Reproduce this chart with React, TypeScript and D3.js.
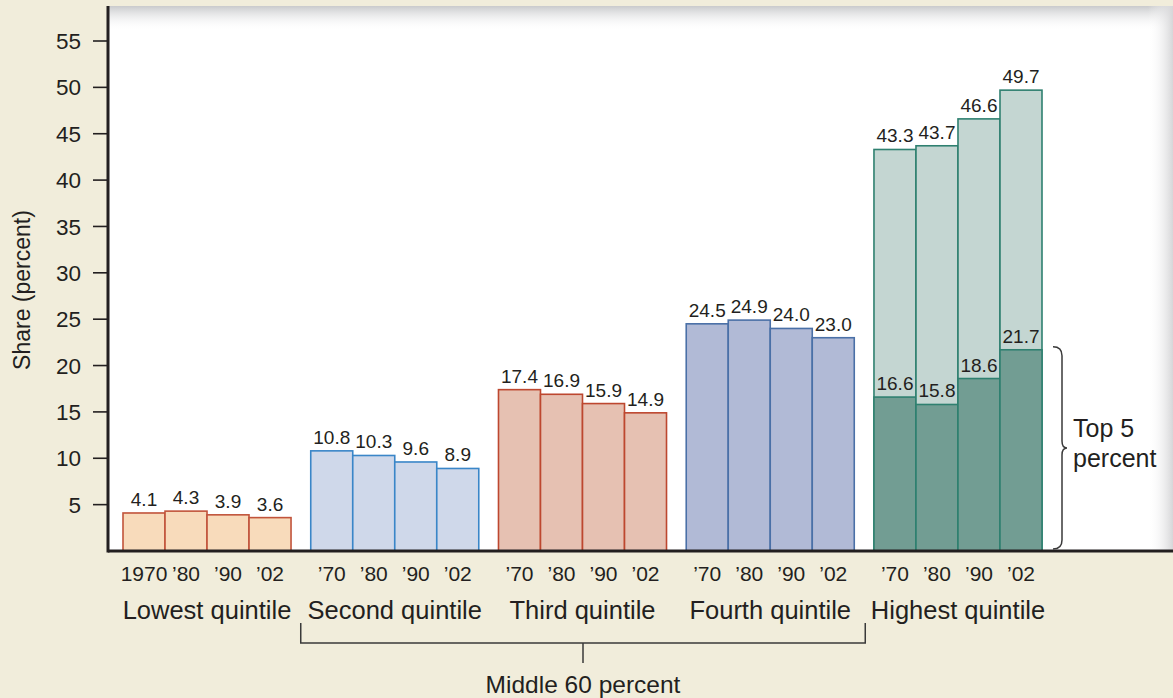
import React from "react";
import * as d3 from "d3";

const quintiles = ["Lowest quintile", "Second quintile", "Third quintile", "Fourth quintile", "Highest quintile"];
const yearLabelsFirst = ["1970", "\u201980", "\u201990", "\u201902"];
const yearLabelsOther = ["\u201970", "\u201980", "\u201990", "\u201902"];
const lowest = [4.1, 4.3, 3.9, 3.6];
const second = [10.8, 10.3, 9.6, 8.9];
const third = [17.4, 16.9, 15.9, 14.9];
const fourth = [24.5, 24.9, 24.0, 23.0];
const highest = [43.3, 43.7, 46.6, 49.7];
const top5 = [16.6, 15.8, 18.6, 21.7];
const yTicks = [5, 10, 15, 20, 25, 30, 35, 40, 45, 50, 55];

const seriesByGroup = [lowest, second, third, fourth, highest];
const groupStyles = [
  { fill: "#f8dbbb", stroke: "#c1543b" },
  { fill: "#cfd8ea", stroke: "#3a86c8" },
  { fill: "#e6c1b2", stroke: "#bd472f" },
  { fill: "#b1bad6", stroke: "#4a70a7" },
  { fill: "#c4d6d2", stroke: "#2f8070" },
];
const darkFill = "#729d93";

const W = 1173;
const H = 698;
const FONT = "'Liberation Sans', Arial, Helvetica, sans-serif";
const TXT = "#231f20";

export default function App() {
  const y = d3.scaleLinear().domain([0, 55]).range([551, 41]);
  const xg = d3.scaleBand<string>().domain(quintiles).range([123, 1042]).paddingInner(0.105).paddingOuter(0);
  const bw = xg.bandwidth();
  const xi = d3.scaleBand<number>().domain([0, 1, 2, 3]).range([0, bw]).padding(0);
  const baseY = y(0);
  const axisX = 108;

  const bracketL = (xg(quintiles[1]) as number) - 10;
  const bracketR = (xg(quintiles[3]) as number) + bw + 11;
  const bracketMid = (bracketL + bracketR) / 2;

  const braceX = (xg(quintiles[4]) as number) + bw + 11;
  const braceTop = y(top5[3]) - 3;
  const braceBot = baseY - 2;
  const braceMid = (braceTop + braceBot) / 2;
  const bracePath = `M${braceX},${braceTop} Q${braceX + 9},${braceTop} ${braceX + 9},${braceTop + 9}
    L${braceX + 9},${braceMid - 7} Q${braceX + 9},${braceMid} ${braceX + 14},${braceMid}
    Q${braceX + 9},${braceMid} ${braceX + 9},${braceMid + 7}
    L${braceX + 9},${braceBot - 9} Q${braceX + 9},${braceBot} ${braceX},${braceBot}`;

  return (
    <div style={{ position: "fixed", left: 0, top: 0 }}>
      <svg width={W} height={H} style={{ display: "block", fontFamily: FONT }}>
        <defs>
          <linearGradient id="topShade" x1="0" y1="0" x2="0" y2="1">
            <stop offset="0" stopColor="#c9cacc" />
            <stop offset="1" stopColor="#ffffff" stopOpacity="0" />
          </linearGradient>
          <linearGradient id="rightShade" x1="0" y1="0" x2="1" y2="0">
            <stop offset="0" stopColor="#ffffff" stopOpacity="0" />
            <stop offset="1" stopColor="#d6d6d8" />
          </linearGradient>
        </defs>
        <rect x={0} y={0} width={W} height={H} fill="#f1eddb" />
        <rect x={axisX} y={6} width={W - axisX} height={baseY - 6} fill="#ffffff" />
        <rect x={axisX} y={6} width={W - axisX} height={25} fill="url(#topShade)" />
        <rect x={1148} y={6} width={W - 1148} height={baseY - 6} fill="url(#rightShade)" />

        {/* Y axis title */}
        <text transform={`translate(30,290) rotate(-90)`} textAnchor="middle" fontSize={23} fill={TXT}>
          Share (percent)
        </text>

        {/* Y ticks */}
        {yTicks.map((t) => (
          <g key={t}>
            <line x1={93} x2={axisX} y1={y(t)} y2={y(t)} stroke={TXT} strokeWidth={1.6} />
            <text x={81} y={y(t)} dy="0.36em" textAnchor="end" fontSize={22.5} fill={TXT}>
              {t}
            </text>
          </g>
        ))}

        {/* Bars */}
        {seriesByGroup.map((vals, gi) => {
          const gx = xg(quintiles[gi]) as number;
          const st = groupStyles[gi];
          return (
            <g key={gi}>
              {vals.map((v, i) => {
                const bx = gx + (xi(i) as number);
                return (
                  <g key={i}>
                    <rect x={bx} y={y(v)} width={xi.bandwidth()} height={baseY - y(v)} fill={st.fill} stroke={st.stroke} strokeWidth={1.6} />
                    {gi === 4 && (
                      <rect x={bx} y={y(top5[i])} width={xi.bandwidth()} height={baseY - y(top5[i])} fill={darkFill} stroke={st.stroke} strokeWidth={1.6} />
                    )}
                  </g>
                );
              })}
              {vals.map((v, i) => {
                const cx = gx + (xi(i) as number) + xi.bandwidth() / 2;
                return (
                  <text key={"l" + i} x={cx} y={y(v) - 7} textAnchor="middle" fontSize={19} fill={TXT}>
                    {v.toFixed(1)}
                  </text>
                );
              })}
              {gi === 4 &&
                top5.map((v, i) => {
                  const cx = gx + (xi(i) as number) + xi.bandwidth() / 2;
                  return (
                    <text key={"t" + i} x={cx} y={y(v) - 7} textAnchor="middle" fontSize={19} fill={TXT}>
                      {v.toFixed(1)}
                    </text>
                  );
                })}
              {(gi === 0 ? yearLabelsFirst : yearLabelsOther).map((lab, i) => {
                const cx = gx + (xi(i) as number) + xi.bandwidth() / 2;
                return (
                  <text key={"y" + i} x={cx} y={581} textAnchor="middle" fontSize={21} fill={TXT}>
                    {lab}
                  </text>
                );
              })}
              <text x={gx + bw / 2} y={619} textAnchor="middle" fontSize={25.5} fill={TXT}>
                {quintiles[gi]}
              </text>
            </g>
          );
        })}

        {/* Axes lines */}
        <line x1={axisX} x2={axisX} y1={6} y2={baseY + 1.5} stroke={TXT} strokeWidth={3} />
        <line x1={axisX} x2={W} y1={baseY} y2={baseY} stroke={TXT} strokeWidth={3} />

        {/* Middle 60 percent bracket */}
        <path
          d={`M${bracketL},623 L${bracketL},643 L${bracketR},643 L${bracketR},623 M${bracketMid},643 L${bracketMid},663`}
          fill="none"
          stroke="#3a3a3a"
          strokeWidth={1.5}
        />
        <text x={bracketMid} y={693} textAnchor="middle" fontSize={24.5} fill={TXT}>
          Middle 60 percent
        </text>

        {/* Top 5 percent brace */}
        <path d={bracePath} fill="none" stroke="#3a3a3a" strokeWidth={1.5} />
        <text x={braceX + 20} y={437} fontSize={25} fill={TXT}>
          Top 5
        </text>
        <text x={braceX + 20} y={467} fontSize={25} fill={TXT}>
          percent
        </text>
      </svg>
    </div>
  );
}
